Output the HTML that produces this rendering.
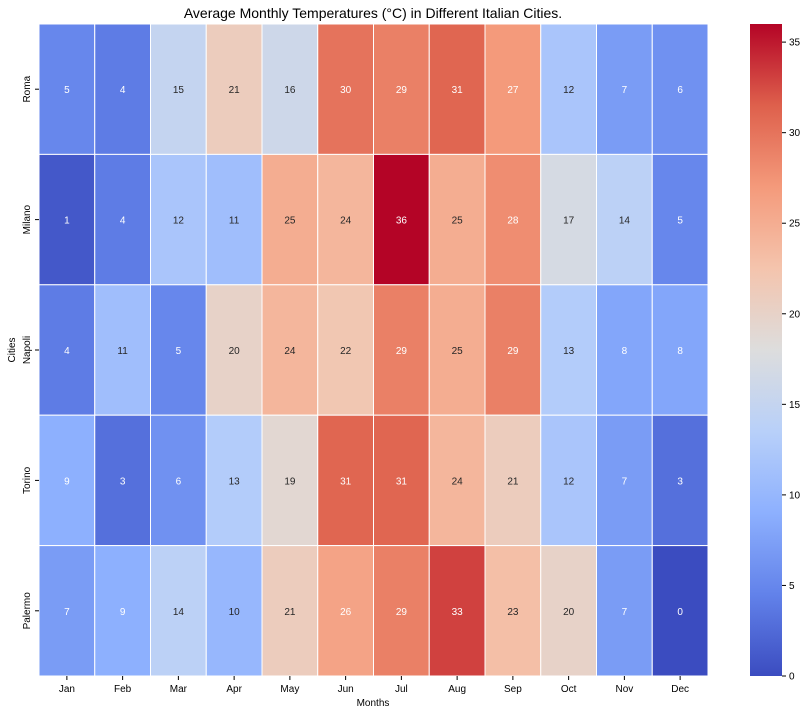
<!DOCTYPE html>
<html><head><meta charset="utf-8"><style>
body{margin:0;background:#fff;}
svg text{font-family:"Liberation Sans","DejaVu Sans",sans-serif;}
</style></head><body>
<svg id="s" width="809" height="714" xmlns="http://www.w3.org/2000/svg">
<defs><linearGradient id="cb" x1="0" y1="1" x2="0" y2="0">
<stop offset="0" stop-color="#3b4cc0"/><stop offset="0.125" stop-color="#6282ea"/>
<stop offset="0.25" stop-color="#8db0fe"/><stop offset="0.375" stop-color="#b8d0f9"/>
<stop offset="0.5" stop-color="#dddddd"/><stop offset="0.625" stop-color="#f4c4ad"/>
<stop offset="0.75" stop-color="#f49a7b"/><stop offset="0.875" stop-color="#de604c"/>
<stop offset="1" stop-color="#b40426"/></linearGradient></defs>
<text x="373" y="18" font-size="14" text-anchor="middle">Average Monthly Temperatures (°C) in Different Italian Cities.</text>
<rect x="750" y="24" width="32" height="652" fill="url(#cb)"/>
</svg>
<script>
const s=document.getElementById('s'),NS='http://www.w3.org/2000/svg';
function el(t,a,txt){const e=document.createElementNS(NS,t);for(const k in a)e.setAttribute(k,a[k]);if(txt!==undefined)e.textContent=txt;s.appendChild(e);return e;}
const A=[[59,76,192],[98,130,234],[141,176,254],[184,208,249],[221,221,221],[244,196,173],[244,154,123],[222,96,76],[180,4,38]];
function col(v){let t=v/36*8;let i=Math.min(7,Math.floor(t));let f=t-i;const a=A[i],b=A[i+1];return `rgb(${a.map((x,k)=>Math.round(x+(b[k]-x)*f)).join(',')})`;}
const D=[[5,4,15,21,16,30,29,31,27,12,7,6],[1,4,12,11,25,24,36,25,28,17,14,5],[4,11,5,20,24,22,29,25,29,13,8,8],[9,3,6,13,19,31,31,24,21,12,7,3],[7,9,14,10,21,26,29,33,23,20,7,0]];
const C=['Roma','Milano','Napoli','Torino','Palermo'],M=['Jan','Feb','Mar','Apr','May','Jun','Jul','Aug','Sep','Oct','Nov','Dec'];
const X0=39,Y0=24,W=669/12,H=652/5;
D.forEach((r,i)=>r.forEach((v,j)=>{
 el('rect',{x:X0+j*W,y:Y0+i*H,width:W,height:H,fill:col(v),stroke:'#fff','stroke-width':1});
 el('text',{x:X0+(j+.5)*W,y:Y0+(i+.5)*H+4,'font-size':10,'text-anchor':'middle',fill:(v<=9||v>=26)?'#fff':'#262626'},v);
}));
M.forEach((m,j)=>{const x=X0+(j+.5)*W;el('line',{x1:x,x2:x,y1:676,y2:680,stroke:'#000'});el('text',{x:x,y:692,'font-size':10,'text-anchor':'middle'},m);});
C.forEach((c,i)=>{const y=Y0+(i+.5)*H;el('line',{x1:35,x2:39,y1:y,y2:y,stroke:'#000'});el('text',{x:0,y:0,'font-size':10,'text-anchor':'middle',transform:`translate(30,${y}) rotate(-90)`},c);});
el('text',{x:373,y:706,'font-size':10,'text-anchor':'middle'},'Months');
el('text',{x:0,y:0,'font-size':10,'text-anchor':'middle',transform:`translate(15,350) rotate(-90)`},'Cities');
[0,5,10,15,20,25,30,35].forEach(v=>{const y=676-v/36*652;el('line',{x1:782,x2:786,y1:y,y2:y,stroke:'#000'});el('text',{x:789,y:y+3.5,'font-size':10},v);});
</script>
</body></html>
